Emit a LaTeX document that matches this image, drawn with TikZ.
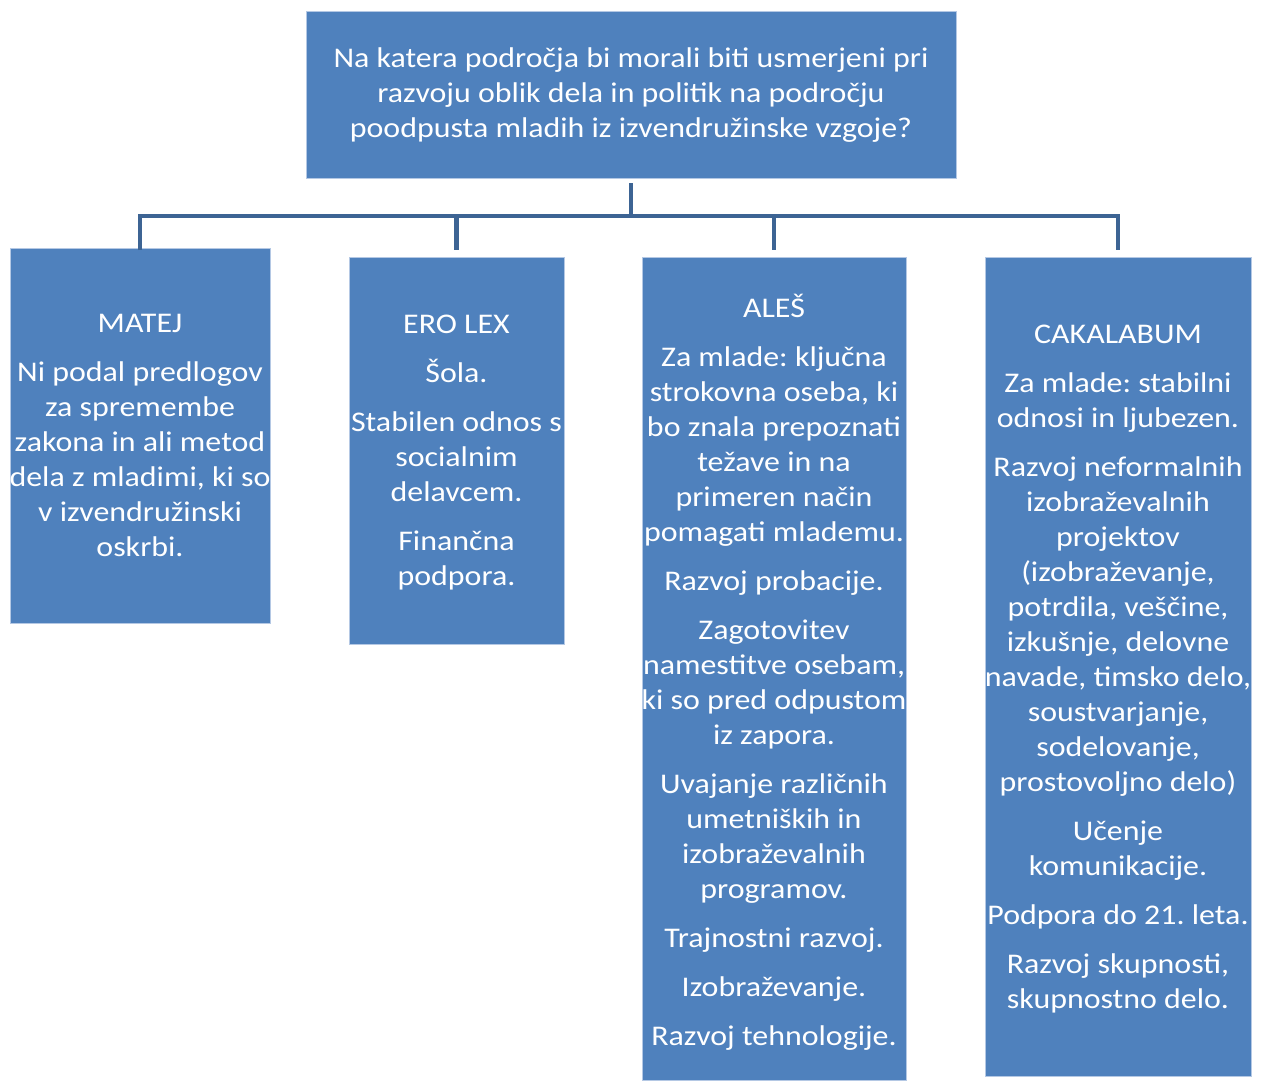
\documentclass[tikz,border=0pt]{standalone}
\usepackage{fontspec}
\setmainfont{Carlito}
\frenchspacing
\definecolor{boxblue}{HTML}{4F81BD}
\definecolor{boxedge}{HTML}{B4C8E4}
\definecolor{linkblue}{HTML}{3D6494}
\begin{document}
\begin{tikzpicture}[x=1pt,y=-1pt,
  box/.style={draw=boxedge,line width=0.8pt,fill=boxblue,inner sep=0pt},
  txt/.style={text=white,align=center,inner sep=0pt,xscale=1.12,transform shape,font=\fontsize{28.5}{35}\selectfont\frenchspacing},
  conn/.style={draw=linkblue,line width=4.5pt}]
\useasboundingbox (0,0) rectangle (1263,1081);
\node[box,minimum width=650pt,minimum height=167pt] (top) at (631,94.5) {};
\node[box,minimum width=260pt,minimum height=375pt] (matej) at (140,435.5) {};
\node[box,minimum width=215pt,minimum height=387pt] (ero) at (456.5,450.5) {};
\node[box,minimum width=264pt,minimum height=823pt] (ales) at (774,668.5) {};
\node[box,minimum width=266pt,minimum height=819pt] (caka) at (1118,666.5) {};

\node[txt] (topT) at ([yshift=-0.5pt]top.center) {Na katera področja bi morali biti usmerjeni pri\\razvoju oblik dela in politik na področju\\poodpusta mladih iz izvendružinske vzgoje?};
\node[txt] (matejT) at (matej.center) {MATEJ\\[14pt]Ni podal predlogov\\za spremembe\\zakona in ali metod\\dela z mladimi, ki so\\v izvendružinski\\oskrbi.};
\node[txt] (eroT) at ([yshift=-2pt]ero.center) {ERO LEX\\[14pt]Šola.\\[14pt]Stabilen odnos s\\socialnim\\delavcem.\\[14pt]Finančna\\podpora.};
\node[txt] (alesT) at ([yshift=-4pt]ales.center) {ALEŠ\\[14pt]Za mlade: ključna\\strokovna oseba, ki\\bo znala prepoznati\\težave in na\\primeren način\\pomagati mlademu.\\[14pt]Razvoj probacije.\\[14pt]Zagotovitev\\namestitve osebam,\\ki so pred odpustom\\iz zapora.\\[14pt]Uvajanje različnih\\umetniških in\\izobraževalnih\\programov.\\[14pt]Trajnostni razvoj.\\[14pt]Izobraževanje.\\[14pt]Razvoj tehnologije.};
\node[txt] (cakaT) at ([yshift=-3pt]caka.center) {CAKALABUM\\[14pt]Za mlade: stabilni\\odnosi in ljubezen.\\[14pt]Razvoj neformalnih\\izobraževalnih\\projektov\\(izobraževanje,\\potrdila, veščine,\\izkušnje, delovne\\navade, timsko delo,\\soustvarjanje,\\sodelovanje,\\prostovoljno delo)\\[14pt]Učenje\\komunikacije.\\[14pt]Podpora do 21. leta.\\[14pt]Razvoj skupnosti,\\skupnostno delo.};

\coordinate (bus) at (631,216);
\coordinate (drop) at (631,250);
\draw[conn] ([yshift=-5pt]top.south) -- (top.south |- bus);
\draw[conn,line join=miter] (matej.north |- drop) -- (matej.north |- bus) -- (caka.north |- bus) -- (caka.north |- drop);
\draw[conn] (ero.north |- bus) -- (ero.north |- drop);
\draw[conn] (ales.north |- bus) -- (ales.north |- drop);
\end{tikzpicture}
\end{document}
